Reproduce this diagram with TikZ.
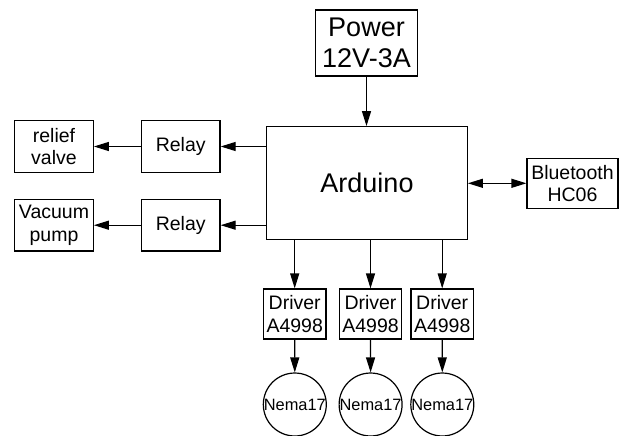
\documentclass[tikz,border=0pt]{standalone}
\usepackage{fontspec}
\setmainfont{Liberation Sans}
\usetikzlibrary{arrows.meta}
\begin{document}
\begin{tikzpicture}[x=1pt,y=-1pt,
  blk/.style={draw,line width=1.2pt,inner sep=0pt,align=center,font=\fontsize{19.5}{22.5}\selectfont},
  big/.style={blk,font=\fontsize{27}{31.5}\selectfont},
  motor/.style={draw,circle,line width=1.2pt,minimum size=62pt,inner sep=0pt,font=\fontsize{16.4}{19}\selectfont},
  arr/.style={line width=1.2pt,-{Triangle[length=15pt,width=9pt]}},
  darr/.style={line width=1.2pt,{Triangle[length=15pt,width=9pt]}-{Triangle[length=15pt,width=9pt]}}
]
\useasboundingbox (0,0) rectangle (626,436);
\clip (0,0) rectangle (626,436);
\fill[white] (0,0) rectangle (626,436);

\node[big, minimum width=102pt, minimum height=66pt] (power) at (366.5,43) {Power\\12V-3A};
\node[big, minimum width=200.6pt, minimum height=112.6pt] (ard) at (367,183) {Arduino};
\node[blk, minimum width=78.7pt, minimum height=51.6pt] (relay1) at (180.7,146.5) {Relay};
\node[blk, minimum width=78.6pt, minimum height=51.6pt] (relief) at (54,146.5) {relief\\valve};
\node[blk, minimum width=78.7pt, minimum height=51.7pt] (relay2) at (180.7,225.2) {Relay};
\node[blk, minimum width=78.6pt, minimum height=51.7pt] (vac) at (54,225.2) {Vacuum\\pump};
\node[blk, minimum width=91pt, minimum height=50pt] (bt) at (572.5,183.3) {Bluetooth\\HC06};

\node[blk, minimum width=62.7pt, minimum height=50pt] (d1) at (294.7,314) {Driver\\A4998};
\node[blk, minimum width=62.4pt, minimum height=50pt] (d2) at (370.5,314) {Driver\\A4998};
\node[blk, minimum width=62.3pt, minimum height=50pt] (d3) at (442.2,314) {Driver\\A4998};

\node[motor] (m1) at (294.8,404.5) {Nema17};
\node[motor] (m2) at (370.6,404.5) {Nema17};
\node[motor] (m3) at (442.3,404.5) {Nema17};

\draw[arr] (power.south) -- (power.south |- ard.north);
\draw[arr] (relay1 -| ard.west) -- (relay1.east);
\draw[arr] (relay1.west) -- (relief.east);
\draw[arr] (relay2 -| ard.west) -- (relay2.east);
\draw[arr] (relay2.west) -- (vac.east);
\draw[darr] (bt.west -| ard.east) -- (bt.west);
\draw[arr] (d1.north |- ard.south) -- (d1.north);
\draw[arr] (d2.north |- ard.south) -- (d2.north);
\draw[arr] (d3.north |- ard.south) -- (d3.north);
\draw[arr] (d1.south) -- (m1.north);
\draw[arr] (d2.south) -- (m2.north);
\draw[arr] (d3.south) -- (m3.north);
\end{tikzpicture}
\end{document}
